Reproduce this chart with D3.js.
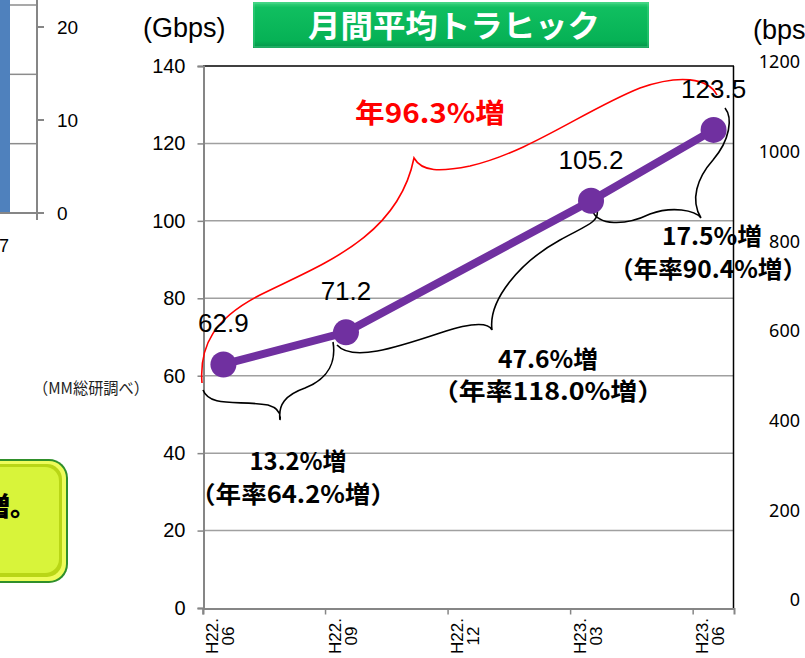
<!DOCTYPE html>
<html><head><meta charset="utf-8">
<script src="https://cdn.jsdelivr.net/npm/d3@7"></script>
<style>body{margin:0;background:#fff}svg{display:block}</style>
</head><body>
<svg id="c" width="805" height="658"></svg>
<script>
// ---- data ----
const months = ["H22.06","H22.07","H22.08","H22.09","H22.10","H22.11","H22.12","H23.01","H23.02","H23.03","H23.04","H23.05","H23.06"];
const tickMonths = ["H22.06","H22.09","H22.12","H23.03","H23.06"];
const pointMonths = ["H22.06","H22.09","H23.03","H23.06"];
const trafficGbps = [62.9, 71.2, 105.2, 123.5];
const yTicks = [0,20,40,60,80,100,120,140];
const rightAxisTicks = [0,200,400,600,800,1000,1200];
const miniTicks = [0,10,20];
const miniGrid = [50,100,150];
const miniBar = [25];
const growthLabels = [
  {main:"13.2%増", sub:"（年率64.2%増）"},
  {main:"47.6%増", sub:"（年率118.0%増）"},
  {main:"17.5%増", sub:"（年率90.4%増）"}
];
const totalGrowth = "年96.3%増";
const titleText = "月間平均トラヒック";
const unitLeft = "(Gbps)";
const unitRight = "(bps)";
const sourceText = "（MM総研調べ）";

const svg = d3.select("#c");
const JP = "'Noto Sans CJK JP','Noto Sans CJK SC',sans-serif";
const AR = "'Liberation Sans',Arial,sans-serif";

const defs = svg.append("defs");
const g1 = defs.append("linearGradient").attr("id","tg").attr("x1",0).attr("y1",0).attr("x2",0).attr("y2",1);
g1.append("stop").attr("offset","0").attr("stop-color","#3fd47f");
g1.append("stop").attr("offset","0.12").attr("stop-color","#10bf60");
g1.append("stop").attr("offset","0.85").attr("stop-color","#06b155");
g1.append("stop").attr("offset","1").attr("stop-color","#05934a");

// ---- scales ----
const x = d3.scaleBand().domain(months).range([203, 734]).paddingInner(0).paddingOuter(0);
const y = d3.scaleLinear().domain([0,140]).range([608,66]);
const yR = d3.scaleLinear().domain([0,1200]).range([600,62]);
const yM = d3.scaleLinear().domain([0,20]).range([213,27]);
const yMg = d3.scaleLinear().domain([0,150]).range([213,5]);
const px = m => x(m) + x.bandwidth()/2;

// ---- left partial chart ----
svg.selectAll(".mg").data(miniGrid).join("line")
  .attr("x1",10).attr("x2",37).attr("y1",d=>yMg(d)).attr("y2",d=>yMg(d))
  .attr("stroke","#8c8c8c").attr("stroke-width",1.5);
svg.selectAll(".mb").data(miniBar).join("rect")
  .attr("x",-20).attr("width",30).attr("y",d=>yM(d)).attr("height",d=>yM(0)-yM(d))
  .attr("fill","#4f81bd");
svg.append("line").attr("x1",37).attr("x2",37).attr("y1",0).attr("y2",220).attr("stroke","#868686").attr("stroke-width",2);
svg.append("line").attr("x1",0).attr("x2",37).attr("y1",213).attr("y2",213).attr("stroke","#868686").attr("stroke-width",2);
svg.selectAll(".mt").data(miniTicks).join("line")
  .attr("x1",37).attr("x2",44).attr("y1",d=>yM(d)).attr("y2",d=>yM(d))
  .attr("stroke","#868686").attr("stroke-width",2);
svg.selectAll(".ml").data(miniTicks).join("text")
  .attr("x",57).attr("y",d=>yM(d)).attr("dy","0.35em")
  .attr("font-family",AR).attr("font-size",19).attr("fill","#000").text(d=>d);
svg.append("text").attr("x",9).attr("y",252).attr("text-anchor","end")
  .attr("font-family",AR).attr("font-size",18).text("27");

svg.append("text").attr("x",91).attr("y",394).attr("text-anchor","middle")
  .attr("font-family",JP).attr("font-size",16).attr("fill","#222")
  .attr("textLength",116).attr("lengthAdjust","spacingAndGlyphs").text(sourceText);

// yellow box
svg.append("rect").attr("x",-30).attr("y",459).attr("width",98).attr("height",124).attr("rx",19).attr("fill","#2f8f2a");
svg.append("rect").attr("x",-28).attr("y",461).attr("width",94).attr("height",120).attr("rx",17).attr("fill","#eefc5a");
svg.append("rect").attr("x",-26).attr("y",464).attr("width",88).attr("height",113).attr("rx",15).attr("fill","#b9d616");
svg.append("rect").attr("x",-25).attr("y",467).attr("width",84).attr("height",106).attr("rx",14).attr("fill","#d8f43a");
svg.append("text").attr("x",36).attr("y",516).attr("text-anchor","end")
  .attr("font-family",JP).attr("font-weight",900).attr("font-size",26).attr("fill","#000").text("増。");

// ---- right partial axis ----
svg.selectAll(".rl").data(rightAxisTicks).join("text")
  .attr("x",800).attr("y",d=>yR(d)).attr("dy","0.35em").attr("text-anchor","end")
  .attr("font-family","'Noto Sans',sans-serif").attr("font-size",18).attr("fill","#000").text(d=>d);
svg.append("text").attr("x",753).attr("y",39).attr("font-family",AR).attr("font-size",27).text(unitRight);

// ---- main chart ----
svg.selectAll(".grid").data(yTicks.filter(d=>d>0 && d<140)).join("line")
  .attr("x1",203).attr("x2",734).attr("y1",d=>y(d)).attr("y2",d=>y(d))
  .attr("stroke","#a0a0a0").attr("stroke-width",1.5);
svg.append("line").attr("x1",203).attr("x2",734).attr("y1",y(140)).attr("y2",y(140)).attr("stroke","#000").attr("stroke-width",1.5);
svg.append("line").attr("x1",733.5).attr("x2",733.5).attr("y1",y(140)).attr("y2",y(0)).attr("stroke","#000").attr("stroke-width",1.5);

const yAxis = svg.append("g").attr("transform","translate(203.5,0)")
  .call(d3.axisLeft(y).tickValues(yTicks).tickSize(6).tickPadding(12));
yAxis.select(".domain").attr("stroke","#868686").attr("stroke-width",2);
yAxis.selectAll(".tick line").attr("stroke","#868686").attr("stroke-width",1.5);
yAxis.selectAll(".tick text").attr("font-family",AR).attr("font-size",20).attr("fill","#000");

const xAxis = svg.append("g").attr("transform","translate(0,608.5)")
  .call(d3.axisBottom(x).tickValues(tickMonths).tickSize(6).tickFormat(""));
xAxis.select(".domain").attr("stroke","#868686").attr("stroke-width",2);
xAxis.selectAll(".tick").attr("transform",d=>`translate(${x(d)},0)`);
xAxis.selectAll(".tick line").attr("stroke","#868686").attr("stroke-width",1.5);
const xl = svg.selectAll(".xl").data(tickMonths).join("text")
  .attr("transform",d=>`translate(${x(d)},636) rotate(-90)`)
  .attr("text-anchor","middle").attr("font-family",AR).attr("font-size",17).attr("fill","#000");
xl.append("tspan").attr("x",0).attr("y",15).text(d=>d.slice(0,4));
xl.append("tspan").attr("x",0).attr("y",31).text(d=>d.slice(4));

svg.append("text").attr("x",143).attr("y",37).attr("font-family",AR).attr("font-size",27).text(unitLeft);

// title box
svg.append("rect").attr("x",253).attr("y",2).attr("width",396).attr("height",46).attr("fill","url(#tg)");
svg.append("rect").attr("x",254).attr("y",3).attr("width",394).attr("height",44).attr("fill","none").attr("stroke","#5fe09a").attr("stroke-width",1).attr("opacity",0.6);
svg.append("text").attr("x",454).attr("y",37).attr("text-anchor","middle")
  .attr("font-family",JP).attr("font-weight",700).attr("font-size",31).attr("fill","#fff")
  .attr("textLength",292).attr("lengthAdjust","spacingAndGlyphs").text(titleText);

// braces (annotation drawings)
svg.append("path").attr("fill","none").attr("stroke","#ff0000").attr("stroke-width",1.6)
  .attr("d","M202,383 C199,345 215,318 260,295 C320,265 398,238 414,158 C422,172 440,172 470,166 C530,152 585,110 640,88 C680,74 708,78 717,95");
const braceStyle = p => p.attr("fill","none").attr("stroke","#000").attr("stroke-width",1.6);
svg.append("path").call(braceStyle)
  .attr("d","M203,390 C210,408 240,400 268,405 C278,408 281,414 280,420 C278,405 285,395 305,388 C330,378 336,360 333,342");
svg.append("path").call(braceStyle)
  .attr("d","M337,345 C352,362 395,348 440,333 C470,323 488,322 492,330 C488,300 520,262 560,240 C585,226 600,222 597,210");
svg.append("path").call(braceStyle)
  .attr("d","M592,210 C598,226 625,226 650,214 C672,206 695,210 701,218 C690,200 697,178 713,160 C730,140 733,118 725,108");

// line + markers
const pts = pointMonths.map((m,i)=>({m, v:trafficGbps[i]}));
svg.append("path").datum(pts)
  .attr("d", d3.line().x(d=>px(d.m)).y(d=>y(d.v)))
  .attr("fill","none").attr("stroke","#7030a0").attr("stroke-width",8);
svg.selectAll(".pt").data(pts).join("circle")
  .attr("cx",d=>px(d.m)).attr("cy",d=>y(d.v)).attr("r",13).attr("fill","#7030a0");
svg.selectAll(".vl").data(pts).join("text")
  .attr("x",d=>px(d.m)).attr("y",d=>y(d.v)-32).attr("text-anchor","middle")
  .attr("font-family",AR).attr("font-size",26).attr("fill","#000").text(d=>d.v.toFixed(1));

// annotation texts
svg.append("text").attr("x",430).attr("y",123).attr("text-anchor","middle")
  .attr("font-family",JP).attr("font-weight",700).attr("font-size",27).attr("fill","#ff0000")
  .attr("textLength",150).attr("lengthAdjust","spacingAndGlyphs").text(totalGrowth);
const annPos = [{x:298,y1:470,x2:293,y2:503},{x:548,y1:368,x2:548,y2:400},{x:712,y1:245,x2:708,y2:278}];
const mainW = [97,100,100];
const subW = [206,232,198];
growthLabels.forEach((g,i)=>{
  svg.append("text").attr("x",annPos[i].x).attr("y",annPos[i].y1).attr("text-anchor","middle")
    .attr("font-family",JP).attr("font-weight",700).attr("font-size",24).attr("fill","#000")
    .attr("textLength",mainW[i]).attr("lengthAdjust","spacingAndGlyphs").text(g.main);
  svg.append("text").attr("x",annPos[i].x2).attr("y",annPos[i].y2).attr("text-anchor","middle")
    .attr("font-family",JP).attr("font-weight",700).attr("font-size",24).attr("fill","#000")
    .attr("textLength",subW[i]).attr("lengthAdjust","spacingAndGlyphs").text(g.sub);
});
</script>
</body></html>
